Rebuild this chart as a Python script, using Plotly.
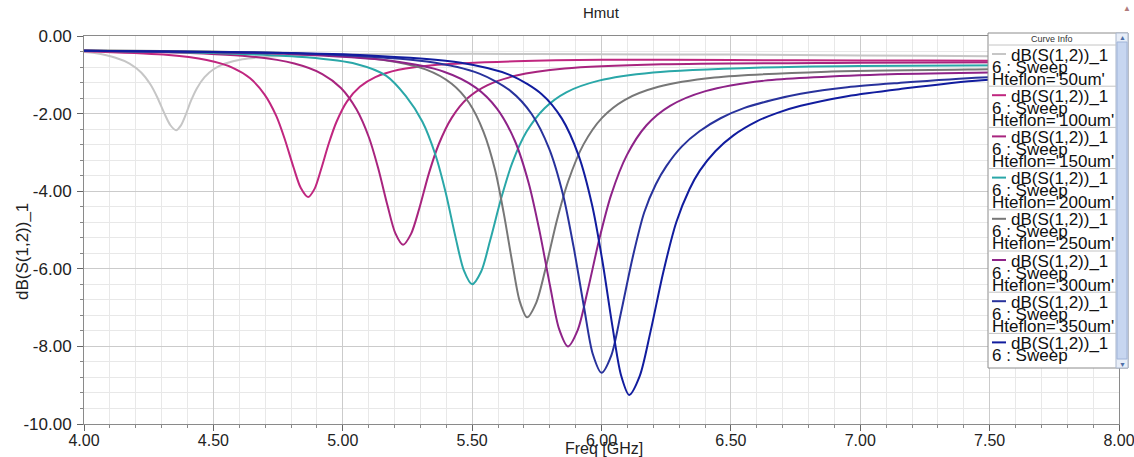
import plotly.graph_objects as go

# ---------------- data ----------------
freq_50 = [4.000, 4.041, 4.122, 4.176, 4.221, 4.257, 4.284, 4.311, 4.334, 4.356, 4.374, 4.393, 4.414, 4.436, 4.466, 4.502, 4.546, 4.612, 4.721, 4.940, 5.500, 6.000, 6.500, 7.000, 7.500, 8.000]
db_50 = [-0.41, -0.44, -0.56, -0.71, -0.94, -1.25, -1.59, -2.00, -2.30, -2.43, -2.31, -2.03, -1.66, -1.35, -1.06, -0.85, -0.71, -0.60, -0.53, -0.48, -0.46, -0.47, -0.48, -0.50, -0.52, -0.55]

freq_100 = [4.000, 4.306, 4.474, 4.575, 4.642, 4.698, 4.743, 4.776, 4.810, 4.838, 4.866, 4.891, 4.916, 4.946, 4.976, 5.016, 5.066, 5.126, 5.216, 5.366, 5.666, 6.000, 6.500, 7.000, 7.500, 8.000]
db_100 = [-0.39, -0.48, -0.62, -0.82, -1.09, -1.51, -2.06, -2.66, -3.39, -3.92, -4.15, -3.94, -3.44, -2.77, -2.21, -1.69, -1.31, -1.06, -0.87, -0.74, -0.65, -0.61, -0.62, -0.63, -0.64, -0.66]

freq_150 = [4.000, 4.273, 4.633, 4.813, 4.921, 4.993, 5.053, 5.101, 5.137, 5.173, 5.203, 5.233, 5.264, 5.296, 5.333, 5.371, 5.421, 5.483, 5.558, 5.671, 5.858, 6.233, 7.000, 8.000]
db_150 = [-0.38, -0.41, -0.52, -0.71, -0.98, -1.34, -1.89, -2.61, -3.41, -4.37, -5.08, -5.38, -5.10, -4.44, -3.54, -2.79, -2.11, -1.60, -1.27, -1.02, -0.84, -0.73, -0.69, -0.67]

freq_200 = [4.000, 4.500, 4.860, 5.052, 5.167, 5.244, 5.308, 5.359, 5.398, 5.436, 5.468, 5.500, 5.535, 5.570, 5.612, 5.654, 5.710, 5.780, 5.864, 5.990, 6.200, 6.620, 7.000, 8.000]
db_200 = [-0.38, -0.44, -0.55, -0.72, -1.02, -1.55, -2.21, -3.08, -4.04, -5.19, -6.04, -6.40, -6.07, -5.26, -4.19, -3.29, -2.47, -1.86, -1.45, -1.15, -0.94, -0.81, -0.77, -0.74]

freq_250 = [4.000, 4.500, 4.816, 5.152, 5.320, 5.421, 5.488, 5.544, 5.589, 5.622, 5.656, 5.684, 5.712, 5.748, 5.785, 5.828, 5.872, 5.930, 6.002, 6.089, 6.220, 6.437, 6.872, 7.500, 8.000]
db_250 = [-0.37, -0.40, -0.45, -0.61, -0.86, -1.23, -1.72, -2.47, -3.46, -4.56, -5.87, -6.84, -7.25, -6.87, -5.96, -4.74, -3.73, -2.80, -2.11, -1.65, -1.31, -1.07, -0.92, -0.86, -0.84]

freq_300 = [4.000, 4.500, 4.774, 5.185, 5.391, 5.514, 5.596, 5.665, 5.719, 5.760, 5.802, 5.836, 5.870, 5.908, 5.946, 5.992, 6.037, 6.098, 6.174, 6.265, 6.402, 6.630, 7.086, 7.500, 8.000]
db_300 = [-0.38, -0.42, -0.46, -0.64, -0.92, -1.33, -1.87, -2.70, -3.80, -5.01, -6.47, -7.55, -8.00, -7.58, -6.58, -5.22, -4.10, -3.07, -2.30, -1.80, -1.42, -1.15, -0.99, -0.94, -0.91]

freq_350 = [4.000, 4.500, 4.920, 5.325, 5.528, 5.649, 5.730, 5.798, 5.852, 5.892, 5.933, 5.966, 6.000, 6.038, 6.075, 6.120, 6.165, 6.210, 6.250, 6.310, 6.380, 6.460, 6.550, 6.660, 6.770, 6.950, 7.150, 7.470, 8.000]
db_350 = [-0.38, -0.41, -0.47, -0.66, -0.97, -1.42, -2.01, -2.91, -4.11, -5.43, -7.01, -8.19, -8.68, -8.23, -7.14, -5.72, -4.55, -3.82, -3.36, -2.85, -2.45, -2.12, -1.86, -1.65, -1.49, -1.32, -1.21, -1.07, -0.98]

freq_400 = [4.000, 4.500, 5.067, 5.457, 5.652, 5.769, 5.847, 5.912, 5.964, 6.003, 6.042, 6.075, 6.107, 6.148, 6.190, 6.239, 6.289, 6.340, 6.380, 6.440, 6.510, 6.600, 6.680, 6.770, 6.950, 7.150, 7.470, 8.000]
db_400 = [-0.38, -0.41, -0.49, -0.69, -1.02, -1.50, -2.13, -3.09, -4.37, -5.78, -7.47, -8.73, -9.25, -8.76, -7.60, -6.08, -4.80, -3.95, -3.47, -2.97, -2.56, -2.20, -1.98, -1.80, -1.55, -1.37, -1.14, -1.03]

hteflon = ["50um", "100um", "150um", "200um", "250um", "300um", "350um", "400um"]
curve_colors = ["#c6c6c6", "#c0267f", "#a8247e", "#2aa7a8", "#777777", "#8e2388", "#28329c", "#111c9e"]

x_tickvals = [4.0, 4.5, 5.0, 5.5, 6.0, 6.5, 7.0, 7.5, 8.0]
x_ticktext = ["4.00", "4.50", "5.00", "5.50", "6.00", "6.50", "7.00", "7.50", "8.00"]
y_tickvals = [0, -2, -4, -6, -8, -10]
y_ticktext = ["0.00", "-2.00", "-4.00", "-6.00", "-8.00", "-10.00"]

series = [
    (freq_50, db_50), (freq_100, db_100), (freq_150, db_150), (freq_200, db_200),
    (freq_250, db_250), (freq_300, db_300), (freq_350, db_350), (freq_400, db_400),
]

# ---------------- layout geometry (pixels) ----------------
W, H = 1134, 457
PL, PR, PT, PB = 84, 1119, 36, 424
FONT = "Arial, Liberation Sans, sans-serif"


def px(x):
    return (x - PL) / (PR - PL)


def py(y):
    return (PB - y) / (PB - PT)


fig = go.Figure()
for (f, d), name, col in zip(series, hteflon, curve_colors):
    fig.add_trace(go.Scatter(
        x=f, y=d, mode="lines", name="Hteflon='%s'" % name,
        line=dict(color=col, width=2, shape="spline", smoothing=0.8),
        showlegend=False, hoverinfo="skip",
    ))

axis_common = dict(
    showline=True, linecolor="#8a8a8a", linewidth=1, mirror=True,
    showgrid=True, gridcolor="#cbcbcb", gridwidth=1,
    ticks="outside", tickcolor="#666", ticklen=6,
    zeroline=False,
    ticklabeloverflow="allow",
    automargin=False,
)

fig.update_xaxes(
    range=[4, 8], tickvals=x_tickvals, ticktext=x_ticktext,
    tickfont=dict(family=FONT, size=16, color="#222"),
    minor=dict(dtick=0.1, tick0=4, showgrid=True, gridcolor="#e8e8e8", ticks="outside", ticklen=3, tickcolor="#888"),
    ticklabelstandoff=-4,
    **axis_common,
)
fig.update_yaxes(
    range=[-10, 0], tickvals=y_tickvals, ticktext=y_ticktext,
    tickfont=dict(family=FONT, size=17, color="#222"),
    minor=dict(dtick=0.4, tick0=0, showgrid=True, gridcolor="#e8e8e8", ticks="outside", ticklen=3, tickcolor="#888"),
    ticklabelstandoff=2,
    **axis_common,
)

shapes = []
annotations = []

# titles
annotations.append(dict(text="Hmut", x=px(601), y=py(13), xref="paper", yref="paper",
                        showarrow=False, font=dict(family=FONT, size=15, color="#222"),
                        xanchor="center", yanchor="middle"))
annotations.append(dict(text="Freq [GHz]", x=px(604), y=py(448), xref="paper", yref="paper",
                        showarrow=False, font=dict(family=FONT, size=16, color="#222"),
                        xanchor="center", yanchor="middle"))
annotations.append(dict(text="dB(S(1,2))_1", x=px(22), y=py(252), xref="paper", yref="paper",
                        showarrow=False, textangle=-90, font=dict(family=FONT, size=17, color="#222"),
                        xanchor="center", yanchor="middle"))
annotations.append(dict(text="▲", x=px(1127), y=py(8), xref="paper", yref="paper",
                        showarrow=False, font=dict(family=FONT, size=8, color="#b07b7b"),
                        xanchor="center", yanchor="middle"))

# legend box ("Curve Info")
BX0, BX1, BY0, BY1 = 988, 1128, 33, 368
shapes.append(dict(type="rect", xref="paper", yref="paper", x0=px(BX0), x1=px(BX1), y0=py(BY1), y1=py(BY0),
                   fillcolor="white", line=dict(color="#8c8c8c", width=1), layer="above"))
# scrollbar
shapes.append(dict(type="rect", xref="paper", yref="paper", x0=px(1116), x1=px(BX1), y0=py(BY1), y1=py(BY0),
                   fillcolor="#e8eef8", line=dict(color="#a9b6cc", width=1), layer="above"))
shapes.append(dict(type="rect", xref="paper", yref="paper", x0=px(1117), x1=px(1127), y0=py(359), y1=py(42),
                   fillcolor="#c7d6f0", line=dict(color="#a0b4d8", width=1), layer="above"))
annotations.append(dict(text="▲", x=px(1122), y=py(37), xref="paper", yref="paper", showarrow=False,
                        font=dict(family=FONT, size=7, color="#4f6fa8"), xanchor="center", yanchor="middle"))
annotations.append(dict(text="▼", x=px(1122), y=py(364), xref="paper", yref="paper", showarrow=False,
                        font=dict(family=FONT, size=7, color="#4f6fa8"), xanchor="center", yanchor="middle"))
annotations.append(dict(text="Curve Info", x=px(1052), y=py(39), xref="paper", yref="paper", showarrow=False,
                        font=dict(family=FONT, size=9, color="#333"), xanchor="center", yanchor="middle"))

ENTRY_TOP = 45
ENTRY_H = 41.2
for i, (name, col) in enumerate(zip(hteflon, curve_colors)):
    t = ENTRY_TOP + ENTRY_H * i
    shapes.append(dict(type="line", xref="paper", yref="paper", x0=px(BX0), x1=px(1116), y0=py(t), y1=py(t),
                       line=dict(color="#c4c4c4", width=1), layer="above"))
    shapes.append(dict(type="line", xref="paper", yref="paper", x0=px(992), x1=px(1006), y0=py(t + 9), y1=py(t + 9),
                       line=dict(color=col, width=2), layer="above"))
    annotations.append(dict(text="dB(S(1,2))_1", x=px(1110), y=py(t + 10), xref="paper", yref="paper",
                            showarrow=False, font=dict(family=FONT, size=17, color="#111"),
                            xanchor="right", yanchor="middle"))
    annotations.append(dict(text="6 : Sweep", x=px(990), y=py(t + 22), xref="paper", yref="paper",
                            showarrow=False, font=dict(family=FONT, size=17, color="#111"),
                            xanchor="left", yanchor="middle"))
    if t + 34 < BY1 - 6:
        annotations.append(dict(text="Hteflon='%s'" % name, x=px(990), y=py(t + 34), xref="paper", yref="paper",
                                showarrow=False, font=dict(family=FONT, size=17, color="#111"),
                                xanchor="left", yanchor="middle"))

fig.update_layout(
    width=W, height=H,
    margin=dict(l=PL, r=W - PR, t=PT, b=H - PB, autoexpand=False),
    paper_bgcolor="white", plot_bgcolor="white",
    shapes=shapes, annotations=annotations,
    showlegend=False,
    font=dict(family=FONT),
)

fig.write_html("out.html")
